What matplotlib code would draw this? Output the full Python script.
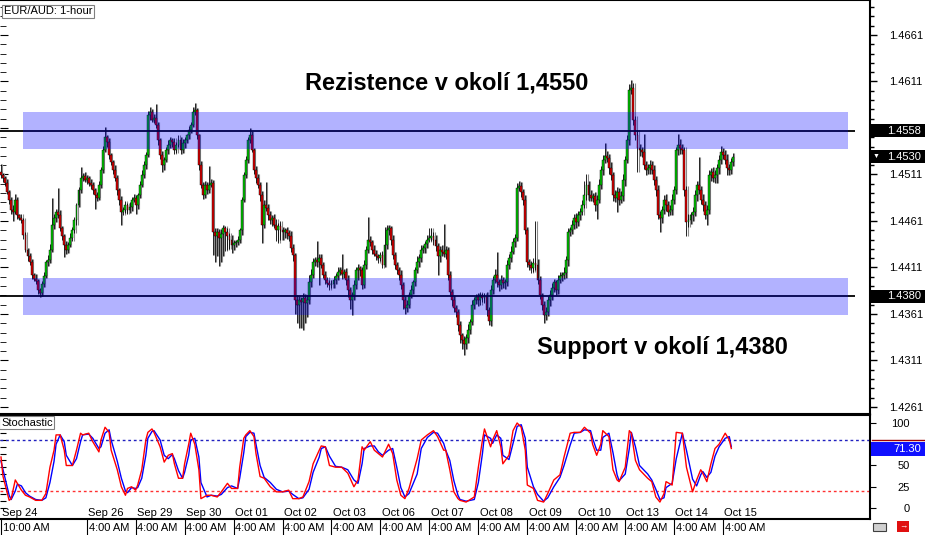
import numpy as np
import matplotlib
matplotlib.use('Agg')
import matplotlib.pyplot as plt
import matplotlib.transforms as mtransforms
from matplotlib.patches import Rectangle

plt.rcParams['font.family'] = ['Liberation Sans', 'DejaVu Sans']

# EUR/AUD 1-hour closes, in pips above 1.4000 (one value per candle)
close_pips = [
    510, 507, 502, 492, 484, 473, 471, 484, 467, 464, 462, 446, 430, 423, 417, 403, 399, 396, 387, 384,
    393, 402, 417, 419, 430, 457, 464, 471, 467, 453, 445, 435, 430, 435, 443, 451, 462, 478, 494, 507,
    509, 505, 507, 502, 500, 494, 489, 486, 500, 516, 537, 551, 546, 532, 524, 516, 507, 494, 484, 471,
    473, 478, 473, 476, 484, 486, 478, 489, 500, 510, 521, 532, 575, 578, 570, 572, 564, 548, 532, 521,
    527, 537, 543, 548, 546, 537, 543, 548, 537, 545, 548, 553, 559, 564, 578, 580, 553, 521, 500, 489,
    500, 494, 500, 502, 449, 445, 449, 443, 447, 453, 449, 445, 441, 435, 437, 438, 441, 451, 484, 510,
    527, 548, 553, 537, 516, 507, 500, 489, 457, 478, 475, 467, 462, 464, 457, 451, 456, 451, 449, 451,
    448, 445, 432, 424, 376, 371, 376, 374, 378, 373, 376, 395, 403, 417, 419, 417, 421, 414, 403, 398,
    394, 392, 393, 398, 402, 406, 408, 404, 406, 398, 387, 376, 381, 392, 408, 410, 408, 392, 414, 430,
    441, 438, 430, 426, 423, 421, 424, 414, 435, 451, 453, 441, 424, 414, 408, 403, 392, 376, 367, 371,
    381, 387, 395, 408, 417, 421, 430, 432, 436, 441, 443, 445, 441, 434, 423, 430, 428, 426, 430, 403,
    385, 376, 367, 363, 349, 338, 333, 329, 335, 344, 352, 371, 376, 379, 376, 381, 378, 380, 365, 354,
    387, 398, 403, 395, 392, 398, 394, 395, 414, 421, 428, 438, 443, 496, 499, 492, 484, 451, 417, 414,
    410, 416, 414, 398, 381, 371, 360, 363, 376, 381, 389, 395, 387, 398, 402, 403, 405, 419, 449, 451,
    457, 464, 460, 467, 471, 478, 489, 500, 489, 486, 488, 478, 484, 500, 516, 527, 531, 529, 518, 510,
    489, 486, 492, 484, 488, 505, 527, 548, 602, 604, 570, 553, 539, 537, 535, 521, 516, 518, 521, 516,
    505, 494, 467, 464, 473, 484, 478, 471, 473, 484, 494, 537, 543, 539, 537, 494, 460, 462, 467, 471,
    489, 500, 494, 484, 478, 467, 473, 510, 514, 507, 510, 518, 527, 535, 532, 527, 518, 516, 524, 530,
]
first_open_pips = 514

# wick lengths beyond the body, in pips
upper_wick = [
    8, 3, 2, 4, 2, 3, 5, 6, 3, 2, 4, 2, 3, 2, 4, 3, 2, 5, 3, 2,
    3, 4, 2, 5, 6, 29, 4, 3, 25, 6, 3, 2, 4, 3, 5, 4, 3, 2, 4, 12,
    4, 5, 3, 2, 4, 3, 2, 3, 4, 3, 5, 11, 3, 4, 2, 3, 5, 3, 2, 4,
    3, 4, 2, 5, 3, 4, 3, 2, 4, 6, 5, 3, 4, 6, 3, 4, 15, 3, 2, 4,
    3, 4, 5, 3, 2, 4, 3, 5, 3, 4, 3, 2, 4, 3, 6, 8, 3, 2, 4, 3,
    4, 3, 20, 4, 3, 5, 4, 3, 5, 4, 3, 4, 3, 5, 4, 3, 4, 2, 3, 4,
    4, 3, 8, 5, 3, 4, 5, 3, 4, 6, 25, 4, 5, 3, 4, 6, 3, 5, 4, 3,
    4, 3, 5, 4, 3, 5, 4, 3, 6, 4, 5, 8, 6, 4, 3, 20, 4, 5, 3, 4,
    3, 4, 5, 4, 3, 6, 4, 18, 3, 4, 5, 3, 4, 6, 4, 5, 3, 4, 5, 4,
    24, 4, 3, 5, 4, 3, 4, 5, 20, 6, 4, 3, 5, 4, 3, 4, 5, 3, 4, 5,
    4, 5, 3, 4, 6, 4, 5, 3, 4, 5, 10, 8, 4, 5, 3, 4, 5, 30, 4, 3,
    4, 3, 5, 4, 3, 4, 3, 4, 5, 6, 4, 5, 3, 4, 5, 4, 3, 4, 5, 4,
    5, 4, 6, 25, 4, 5, 3, 4, 5, 4, 6, 5, 4, 6, 5, 4, 3, 5, 4, 3,
    4, 5, 45, 6, 4, 3, 4, 5, 4, 6, 5, 4, 3, 5, 4, 3, 6, 4, 5, 4,
    5, 4, 6, 5, 4, 6, 15, 12, 4, 5, 3, 4, 5, 6, 4, 5, 14, 5, 4, 6,
    4, 5, 6, 4, 5, 6, 4, 5, 6, 9, 5, 4, 6, 5, 4, 20, 5, 4, 6, 5,
    5, 4, 6, 5, 4, 5, 6, 4, 5, 6, 5, 4, 12, 6, 5, 4, 5, 6, 4, 5,
    5, 4, 30, 5, 6, 4, 5, 6, 4, 5, 6, 4, 5, 7, 4, 5, 6, 4, 5, 4,
]
lower_wick = [
    3, 4, 3, 2, 5, 4, 10, 3, 4, 2, 3, 4, 2, 5, 3, 4, 2, 3, 4, 5,
    4, 3, 2, 4, 3, 2, 5, 4, 3, 3, 4, 13, 4, 3, 2, 4, 3, 5, 2, 3,
    3, 2, 4, 3, 5, 4, 15, 3, 2, 4, 3, 2, 5, 4, 3, 4, 3, 5, 6, 14,
    4, 3, 5, 3, 4, 3, 10, 4, 3, 2, 3, 4, 2, 5, 3, 4, 3, 5, 4, 7,
    5, 3, 4, 3, 5, 4, 3, 2, 4, 3, 5, 3, 4, 3, 2, 3, 4, 5, 3, 4,
    3, 4, 3, 2, 25, 28, 22, 30, 26, 24, 20, 15, 10, 8, 5, 4, 3, 4, 5, 3,
    3, 4, 3, 2, 4, 5, 3, 6, 20, 4, 3, 5, 4, 6, 3, 12, 14, 10, 8, 6,
    6, 5, 4, 6, 15, 20, 25, 28, 30, 22, 15, 4, 5, 3, 4, 6, 25, 4, 3, 5,
    4, 5, 3, 4, 5, 4, 3, 5, 4, 6, 8, 10, 16, 5, 4, 10, 6, 4, 3, 5,
    3, 4, 5, 3, 4, 5, 3, 4, 3, 4, 5, 6, 4, 5, 4, 5, 4, 10, 6, 4,
    4, 3, 5, 4, 3, 5, 4, 3, 5, 4, 3, 4, 6, 5, 20, 6, 5, 4, 6, 5,
    5, 6, 4, 5, 6, 8, 10, 12, 6, 5, 4, 3, 5, 4, 6, 5, 4, 5, 6, 5,
    6, 5, 4, 5, 6, 4, 5, 6, 4, 5, 4, 3, 5, 4, 3, 5, 6, 4, 5, 6,
    5, 4, 6, 5, 4, 6, 9, 5, 4, 6, 5, 4, 6, 5, 4, 5, 4, 5, 6, 4,
    4, 5, 6, 4, 5, 4, 3, 5, 6, 4, 5, 6, 15, 4, 5, 6, 4, 5, 6, 5,
    6, 5, 15, 6, 4, 5, 6, 4, 5, 4, 6, 5, 25, 6, 5, 4, 6, 5, 6, 4,
    5, 6, 4, 15, 5, 4, 6, 5, 4, 6, 5, 4, 5, 6, 4, 6, 15, 5, 4, 6,
    5, 6, 4, 5, 6, 4, 10, 5, 6, 4, 5, 8, 6, 5, 4, 5, 8, 6, 5, 4,
]

# stochastic samples: candle index, red line, blue line
stoch_idx = [0, 1, 4, 5, 7, 8, 10, 12, 14, 17, 20, 22, 24, 26, 27, 29, 31, 32, 35, 37,
             39, 40, 43, 45, 48, 49, 51, 53, 54, 57, 59, 61, 62, 64, 66, 67, 69, 71, 72, 74,
             75, 78, 80, 82, 84, 85, 87, 89, 90, 92, 93, 95, 97, 98, 101, 103, 106, 108, 111, 113,
             116, 117, 119, 120, 122, 124, 125, 127, 129, 132, 135, 138, 141, 143, 146, 148, 151, 153, 156, 157,
             159, 161, 164, 167, 170, 173, 175, 177, 178, 181, 183, 185, 187, 190, 192, 194, 196, 198, 200, 204,
             206, 209, 212, 214, 217, 218, 220, 222, 224, 225, 228, 232, 234, 236, 237, 240, 241, 243, 245, 246,
             249, 251, 253, 255, 257, 258, 261, 263, 266, 268, 271, 274, 276, 279, 281, 284, 286, 289, 290, 292,
             294, 295, 298, 300, 302, 303, 306, 308, 309, 311, 313, 317, 319, 321, 323, 325, 326, 329, 331, 334,
             336, 339, 341, 343, 344, 346, 348, 350, 352, 355, 357, 358]
stoch_red = [60, 37, 9, 11, 33, 29, 21, 15, 13, 9, 9, 17, 48, 68, 86, 86, 68, 50, 50, 68,
             88, 86, 88, 78, 66, 80, 95, 89, 68, 45, 25, 15, 23, 25, 21, 27, 45, 80, 89, 93,
             89, 72, 54, 62, 64, 52, 35, 35, 52, 75, 88, 75, 45, 11, 15, 15, 13, 19, 29, 23,
             23, 48, 82, 86, 91, 84, 64, 37, 35, 25, 19, 19, 21, 11, 11, 13, 31, 52, 68, 73,
             72, 50, 48, 48, 41, 25, 33, 72, 68, 78, 68, 64, 60, 75, 64, 33, 15, 11, 23, 58,
             80, 86, 91, 84, 68, 68, 45, 19, 11, 9, 7, 13, 48, 80, 93, 72, 80, 91, 72, 52,
             62, 91, 100, 95, 68, 27, 23, 9, 7, 17, 33, 39, 60, 88, 89, 89, 95, 88, 75, 62,
             75, 91, 84, 45, 33, 31, 48, 91, 88, 56, 45, 35, 31, 13, 7, 17, 31, 27, 89, 88,
             48, 19, 33, 45, 41, 31, 52, 70, 75, 88, 80, 70]
stoch_blue = [55, 45, 15, 10, 20, 28, 26, 18, 14, 10, 9, 12, 30, 55, 75, 86, 78, 62, 50, 58,
              78, 86, 87, 82, 70, 72, 88, 92, 80, 55, 35, 20, 18, 24, 23, 24, 35, 62, 82, 90,
              91, 80, 62, 58, 63, 58, 44, 35, 42, 62, 80, 82, 60, 30, 13, 15, 14, 16, 24, 26,
              23, 35, 65, 84, 89, 88, 75, 50, 36, 30, 22, 19, 20, 16, 11, 12, 22, 42, 60, 70,
              72, 61, 49, 48, 45, 33, 29, 52, 70, 73, 73, 66, 62, 68, 70, 48, 24, 13, 17, 40,
              70, 83, 89, 88, 76, 68, 56, 32, 15, 10, 8, 10, 30, 64, 86, 82, 76, 86, 82, 62,
              57, 76, 96, 98, 82, 48, 25, 16, 8, 12, 25, 36, 50, 74, 88, 89, 92, 91, 82, 68,
              68, 83, 88, 65, 39, 32, 40, 70, 89, 72, 50, 40, 33, 22, 10, 12, 24, 29, 58, 88,
              68, 34, 26, 39, 43, 36, 42, 61, 72, 82, 84, 72]

resistance = 1.4558
support = 1.4380
zone_half = 0.0020
last_price = 1.4530
stoch_last = 71.30

day_idx = [0, 42, 66, 90, 114, 138, 162, 186, 210, 234, 258, 282, 306, 330, 354]
day_labels = ['Sep 24', 'Sep 26', 'Sep 29', 'Sep 30', 'Oct 01', 'Oct 02', 'Oct 03', 'Oct 06',
              'Oct 07', 'Oct 08', 'Oct 09', 'Oct 10', 'Oct 13', 'Oct 14', 'Oct 15']
time_labels = ['10:00 AM'] + ['4:00 AM'] * 14

closes = 1.4 + np.array(close_pips) / 10000
opens = np.r_[1.4 + first_open_pips / 10000, closes[:-1]]
highs = np.maximum(opens, closes) + np.array(upper_wick) / 10000
lows = np.minimum(opens, closes) - np.array(lower_wick) / 10000
idx = np.arange(len(closes))

W, H = 925, 535
fig = plt.figure(figsize=(W / 100, H / 100), dpi=100)
ax = fig.add_axes([0, 1 - 413.5 / H, 870 / W, 413.5 / H])
ax2 = fig.add_axes([0, 1 - 519 / H, 870 / W, (519 - 414.7) / H])

xmin, xmax = -0.49, 425.98
ax.set_xlim(xmin, xmax)
ax.set_ylim(1.42540, 1.469863)

# candles
up = closes >= opens
ax.vlines(idx + 0.55, lows, highs, color='#8a8a8a', lw=0.8, zorder=1)
ax.vlines(idx, lows, highs, color='black', lw=0.6, zorder=2)
ax.bar(idx, np.abs(closes - opens), bottom=np.minimum(opens, closes), width=0.95,
       color=np.where(up, '#00cc00', '#e00000'), edgecolor='black', linewidth=0.3, zorder=3)

# support / resistance zones
for lvl in (resistance, support):
    ax.hlines(lvl, xmin, 418.6, color='black', lw=1.3, zorder=4)
    ax.add_patch(Rectangle((10.8, lvl - zone_half), 415.2 - 10.8, 2 * zone_half,
                           facecolor='#0000ff', alpha=0.3, edgecolor='none', zorder=5))

ax.text(149, 1.46025, 'Rezistence v okolí 1,4550', fontsize=17, fontweight='bold', ha='left', va='baseline')
ax.text(262.7, 1.43175, 'Support v okolí 1,4380', fontsize=17, fontweight='bold', ha='left', va='baseline')

# price axis
major = np.arange(1.4261, 1.46611, 0.005)
minor = np.arange(1.4261, 1.4700, 0.001)
ax.yaxis.tick_right()
ax.set_yticks(major)
ax.set_yticklabels([f'{v:.4f}' for v in major])
ax.set_yticks(minor, minor=True)
ax.tick_params(axis='y', which='major', direction='out', length=5, width=1, labelsize=8, pad=8.5)
ax.tick_params(axis='y', which='minor', direction='out', length=3, width=1)
ax.set_xticks([])
sec = ax.secondary_yaxis('left')
sec.set_yticks(major)
sec.set_yticks(minor, minor=True)
sec.tick_params(axis='y', which='major', direction='in', length=6, labelleft=False)
sec.tick_params(axis='y', which='minor', direction='in', length=4, labelleft=False)
sec.spines['left'].set_visible(False)
ax.spines['left'].set_visible(False)
for s in ('top', 'right', 'bottom'):
    ax.spines[s].set_linewidth(1.5)

ax.text(4 / 870, 0.985, 'EUR/AUD: 1-hour', transform=ax.transAxes, fontsize=8, ha='left', va='top',
        bbox=dict(boxstyle='square,pad=0.15', fc='white', ec='#808080', lw=0.8), zorder=12)

trans = mtransforms.blended_transform_factory(ax.transAxes, ax.transData)


def price_tag(a, tr, y, h, text, fc, arrow=False):
    a.add_patch(Rectangle((1.001, y - h / 2), 55 / 870, h, transform=tr, facecolor=fc,
                          edgecolor='none', clip_on=False, zorder=10))
    a.text(921 / 870, y, text, transform=tr, ha='right', va='center', color='white',
           fontsize=8, clip_on=False, zorder=11)
    if arrow:
        a.text(873 / 870, y, '▼', transform=tr, ha='left', va='center', color='white',
               fontsize=5, clip_on=False, zorder=11)


price_tag(ax, trans, resistance, 0.0014, f'{resistance:.4f}', 'black')
price_tag(ax, trans, last_price, 0.0014, f'{last_price:.4f}', 'black', arrow=True)
price_tag(ax, trans, support, 0.0014, f'{support:.4f}', 'black')

# stochastic panel
ax2.set_xlim(xmin, xmax)
ax2.set_ylim(-12.94, 109.76)
ax2.axhline(80, color='#2020c0', lw=1, ls=(0, (2, 2)))
ax2.axhline(20, color='#ff3030', lw=1, ls=(0, (2, 2)))
ax2.plot(stoch_idx, stoch_blue, color='#0000ff', lw=1)
ax2.plot(stoch_idx, stoch_red, color='#ff0000', lw=1)
ax2.yaxis.tick_right()
ax2.set_yticks([0, 25, 50, 75, 100])
ax2.set_yticklabels(['0', '25', '50', '', '100'])
ax2.tick_params(axis='y', which='major', direction='out', length=4, labelsize=8, pad=24.5)
for t in ax2.get_yticklabels():
    t.set_horizontalalignment('right')
ax2.set_xticks([])
sec2 = ax2.secondary_yaxis('left')
sec2.set_yticks(np.arange(0, 110, 8))
sec2.tick_params(axis='y', direction='in', length=4, labelleft=False)
sec2.spines['left'].set_visible(False)
ax2.spines['left'].set_visible(False)
for s in ('top', 'right', 'bottom'):
    ax2.spines[s].set_linewidth(1.5)

ax2.text(1 / 870, 0.97, 'Stochastic', transform=ax2.transAxes, fontsize=8, ha='left', va='top',
         bbox=dict(boxstyle='square,pad=0.15', fc='white', ec='#808080', lw=0.8), zorder=12)

trans2 = mtransforms.blended_transform_factory(ax2.transAxes, ax2.transData)
price_tag(ax2, trans2, stoch_last - 1.5, 16.5, f'{stoch_last:.2f}', '#1010ff')
ax2.plot([1.002, 1.063], [80.5, 80.5], transform=trans2, color='#a00000', lw=1, clip_on=False, zorder=12)

# date / time labels
transd = mtransforms.blended_transform_factory(ax2.transData, ax2.transAxes)
for i, d, t in zip(day_idx, day_labels, time_labels):
    ax2.text(i + 0.6, 0.055, d, transform=transd, fontsize=8, ha='left', va='center')
    ax2.text(i + 0.9, -0.09, t, transform=transd, fontsize=8, ha='left', va='center', clip_on=False)
    ax2.plot([i, i], [0, -0.16], transform=transd, color='black', lw=0.8, clip_on=False)

# bottom-right icons
fig.add_artist(Rectangle((873 / W, 1 - 531 / H), 13 / W, 8 / H, transform=fig.transFigure,
                         facecolor='#d0d0d0', edgecolor='#404040', lw=0.8))
fig.add_artist(Rectangle((897 / W, 1 - 532 / H), 12 / W, 11 / H, transform=fig.transFigure,
                         facecolor='#e01010', edgecolor='none'))
fig.text(903 / W, 1 - 526.5 / H, '→', color='white', fontsize=6, ha='center', va='center')

fig.savefig('out.png', dpi=100)
